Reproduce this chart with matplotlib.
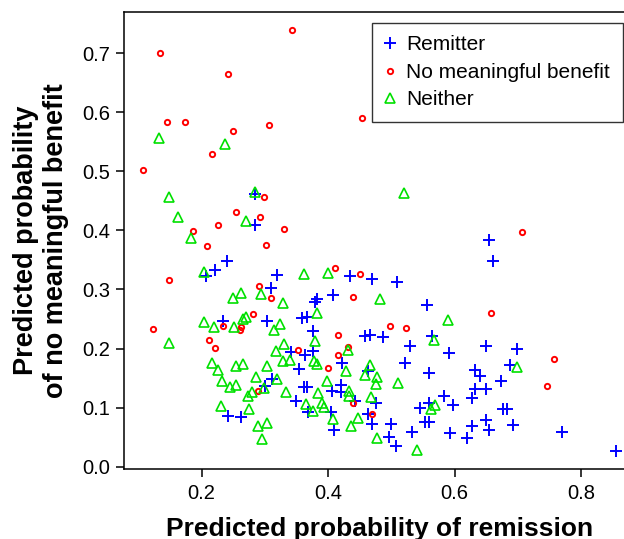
import matplotlib

matplotlib.use("Agg")
import matplotlib.pyplot as plt

plt.rcParams["font.family"] = ["Liberation Sans", "DejaVu Sans"]

# values
remitter_x = [0.285, 0.284, 0.654, 0.661, 0.240, 0.221, 0.207, 0.320, 0.309, 0.234,
              0.303, 0.342, 0.312, 0.301, 0.241, 0.263, 0.434, 0.469, 0.509, 0.407,
              0.383, 0.380, 0.557, 0.359, 0.367, 0.376, 0.458, 0.467, 0.487, 0.564,
              0.530, 0.363, 0.376, 0.422, 0.591, 0.354, 0.521, 0.463, 0.559, 0.420,
              0.362, 0.366, 0.406, 0.421, 0.583, 0.349, 0.369, 0.442, 0.475, 0.405,
              0.410, 0.463, 0.470, 0.500, 0.496, 0.507, 0.532, 0.546, 0.559, 0.554,
              0.560, 0.592, 0.650, 0.699, 0.688, 0.632, 0.640, 0.674, 0.633, 0.649,
              0.627, 0.598, 0.676, 0.683, 0.650, 0.628, 0.654, 0.692, 0.620, 0.770,
              0.855]
remitter_y = [0.462, 0.409, 0.383, 0.349, 0.348, 0.333, 0.323, 0.325, 0.303, 0.247,
              0.247, 0.194, 0.149, 0.136, 0.086, 0.084, 0.322, 0.318, 0.313, 0.291,
              0.284, 0.278, 0.274, 0.252, 0.253, 0.230, 0.222, 0.223, 0.219, 0.221,
              0.204, 0.189, 0.195, 0.175, 0.192, 0.166, 0.175, 0.162, 0.158, 0.139,
              0.135, 0.135, 0.128, 0.127, 0.120, 0.111, 0.093, 0.111, 0.107, 0.092,
              0.062, 0.089, 0.073, 0.073, 0.051, 0.035, 0.058, 0.100, 0.107, 0.076,
              0.076, 0.057, 0.205, 0.199, 0.172, 0.164, 0.153, 0.145, 0.131, 0.132,
              0.117, 0.104, 0.097, 0.097, 0.079, 0.069, 0.062, 0.070, 0.049, 0.059,
              0.027]

no_benefit_x = [0.343, 0.134, 0.241, 0.145, 0.173, 0.249, 0.306, 0.454, 0.216, 0.108,
                0.299, 0.255, 0.293, 0.226, 0.330, 0.187, 0.208, 0.302, 0.707, 0.148,
                0.291, 0.310, 0.281, 0.234, 0.263, 0.261, 0.123, 0.211, 0.221, 0.289,
                0.411, 0.451, 0.439, 0.416, 0.498, 0.523, 0.431, 0.353, 0.416, 0.400,
                0.440, 0.469, 0.657, 0.757, 0.746]
no_benefit_y = [0.740, 0.700, 0.665, 0.584, 0.584, 0.569, 0.578, 0.591, 0.530, 0.502,
                0.456, 0.431, 0.422, 0.409, 0.403, 0.399, 0.374, 0.375, 0.397, 0.316,
                0.306, 0.286, 0.258, 0.238, 0.236, 0.231, 0.233, 0.214, 0.201, 0.128,
                0.336, 0.327, 0.288, 0.223, 0.239, 0.234, 0.202, 0.197, 0.189, 0.167,
                0.107, 0.089, 0.260, 0.183, 0.136]

neither_x = [0.132, 0.237, 0.148, 0.163, 0.284, 0.270, 0.184, 0.520, 0.204, 0.249,
             0.263, 0.294, 0.329, 0.204, 0.220, 0.265, 0.270, 0.252, 0.324, 0.314,
             0.148, 0.330, 0.318, 0.329, 0.216, 0.226, 0.254, 0.265, 0.303, 0.286,
             0.320, 0.233, 0.245, 0.254, 0.298, 0.280, 0.273, 0.333, 0.231, 0.275,
             0.289, 0.303, 0.296, 0.362, 0.400, 0.482, 0.382, 0.589, 0.567, 0.379,
             0.432, 0.339, 0.378, 0.383, 0.428, 0.466, 0.458, 0.478, 0.476, 0.511,
             0.398, 0.384, 0.433, 0.433, 0.468, 0.365, 0.376, 0.390, 0.394, 0.407,
             0.448, 0.437, 0.477, 0.541, 0.562, 0.569, 0.698]
neither_y = [0.556, 0.546, 0.457, 0.423, 0.465, 0.416, 0.388, 0.463, 0.329, 0.286,
             0.294, 0.292, 0.277, 0.245, 0.237, 0.250, 0.253, 0.236, 0.241, 0.231,
             0.210, 0.208, 0.195, 0.179, 0.176, 0.164, 0.170, 0.173, 0.170, 0.152,
             0.148, 0.145, 0.135, 0.138, 0.134, 0.126, 0.120, 0.126, 0.103, 0.098,
             0.069, 0.074, 0.047, 0.326, 0.328, 0.284, 0.261, 0.248, 0.214, 0.213,
             0.197, 0.180, 0.179, 0.173, 0.162, 0.172, 0.156, 0.151, 0.140, 0.141,
             0.145, 0.124, 0.128, 0.119, 0.118, 0.106, 0.095, 0.107, 0.101, 0.080,
             0.082, 0.069, 0.049, 0.028, 0.097, 0.104, 0.168]

x_ticks = [0.2, 0.4, 0.6, 0.8]
y_ticks = [0.0, 0.1, 0.2, 0.3, 0.4, 0.5, 0.6, 0.7]


def main():
    fig = plt.figure(figsize=(6.24, 5.39), dpi=100)
    # right side of the box runs past the picture edge, as in the reference
    ax = fig.add_axes([0.1994, 0.1299, 0.818, 0.8479])

    ax.plot(remitter_x, remitter_y, linestyle="none", marker="+", color="#0000ff",
            markersize=8.6, markeredgewidth=1.4, label="Remitter")
    ax.plot(no_benefit_x, no_benefit_y, linestyle="none", marker="o", color="#ff0000",
            markerfacecolor="none", markersize=3.8, markeredgewidth=1.4,
            label="No meaningful benefit")
    ax.plot(neither_x, neither_y, linestyle="none", marker="^", color="#00e000",
            markerfacecolor="none", markersize=6.8, markeredgewidth=1.2,
            label="Neither")

    ax.set_xlim(0.078, 0.885)
    ax.set_ylim(-0.004, 0.770)
    ax.set_xticks(x_ticks)
    ax.set_xticklabels([f"{v:.1f}" for v in x_ticks])
    ax.set_yticks(y_ticks)
    ax.set_yticklabels([f"{v:.1f}" for v in y_ticks])

    for side in ax.spines.values():
        side.set_linewidth(1.1)
    ax.tick_params(direction="out", length=6, width=1.1, labelsize=14.5, pad=4)
    ax.tick_params(axis="x", pad=5)

    ax.set_xlabel("Predicted probability of remission", fontsize=19,
                  fontweight="bold", labelpad=10)
    ax.set_ylabel("Predicted probability\nof no meaningful benefit", fontsize=19.5,
                  fontweight="bold", labelpad=10, linespacing=1.2)

    leg = ax.legend(loc="upper left", bbox_to_anchor=(372 / 624, 1 - 23 / 539),
                    bbox_transform=fig.transFigure, borderaxespad=0,
                    fontsize=15, handlelength=0.55, handletextpad=0.5,
                    borderpad=0.6, labelspacing=0.4, fancybox=False,
                    framealpha=1, edgecolor="#333333")
    leg.get_frame().set_linewidth(1.0)

    fig.savefig("out.png", dpi=100)


if __name__ == "__main__":
    main()
